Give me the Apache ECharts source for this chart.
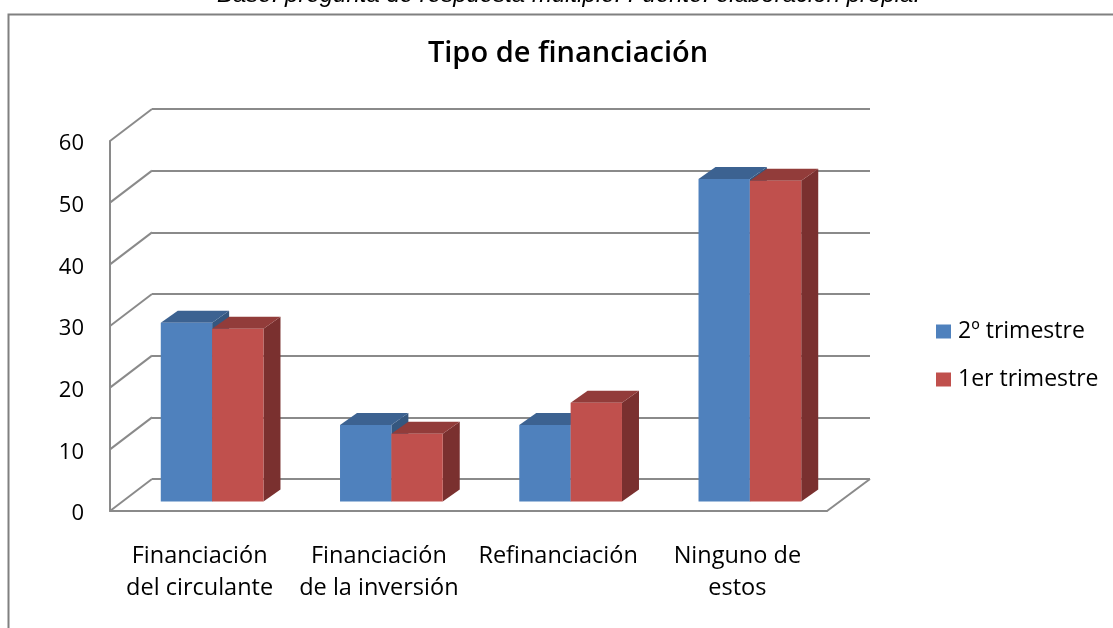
<!DOCTYPE html>
<html><head><meta charset="utf-8">
<style>html,body{margin:0;padding:0;background:#fff}#c{width:1113px;height:628px}</style>
<script src="https://cdn.jsdelivr.net/npm/echarts@6/dist/echarts.min.js"></script>
</head><body><div id="c"></div>
<script>
const categories = ['Financiación\ndel circulante', 'Financiación\nde la inversión', 'Refinanciación', 'Ninguno de\nestos'];
const trimestre2 = [29, 12.4, 12.4, 52.3];
const trimestre1 = [28, 11, 16, 52];
const seriesNames = ['2º trimestre', '1er trimestre'];
const titleText = 'Tipo de financiación';
const noteText = 'Base: pregunta de respuesta múltiple. Fuente: elaboración propia.';
const axisMax = 60;
const axisStep = 10;
const tickValues = [0, 10, 20, 30, 40, 50, 60];

const font = '"Open Sans", sans-serif';
const grey = '#8a8a8a';
const wallDx = 42, wallDy = -32;
const barDx = 12.5, barDy = -9.5, depthDx = 17, depthDy = -12;

function bar3d(seriesIndex, front, top, side) {
  return function (params, api) {
    const cat = api.value(0), val = api.value(1);
    const size = api.size([1, 0])[0];
    const w = size * 0.2865;
    const base = api.coord([cat, 0]), head = api.coord([cat, val]);
    const x0 = base[0] + barDx + (seriesIndex === 0 ? -w : 0);
    const x1 = x0 + w;
    const yb = base[1] + barDy, yt = head[1] + barDy;
    const poly = (points, fill) => ({ type: 'polygon', shape: { points }, style: { fill } });
    return { type: 'group', children: [
      poly([[x1, yb], [x1 + depthDx, yb + depthDy], [x1 + depthDx, yt + depthDy], [x1, yt]], side),
      poly([[x0, yt], [x1, yt], [x1 + depthDx, yt + depthDy], [x0 + depthDx, yt + depthDy]], top),
      poly([[x0, yb], [x1, yb], [x1, yt], [x0, yt]], front)
    ] };
  };
}

const chart = echarts.init(document.getElementById('c'), null, { renderer: 'canvas' });
chart.setOption({
  animation: false,
  backgroundColor: '#fff',
  textStyle: { fontFamily: font },
  title: {
    text: titleText, left: 563, top: 34, textAlign: 'center',
    textStyle: { fontFamily: font, fontSize: 29, fontWeight: 600, color: '#000' }
  },
  legend: {
    left: 931, top: 315, orient: 'vertical', itemGap: 25, itemWidth: 15, itemHeight: 14,
    data: seriesNames.map(name => ({ name, icon: 'rect' })),
    textStyle: { fontFamily: font, fontSize: 23, color: '#000', padding: [0, 0, 0, 2] }
  },
  graphic: [
    { type: 'polyline', silent: true, z: 0,
      shape: { points: [[8.5, 628], [8.5, 14.5], [1113, 14.5]] },
      style: { stroke: '#808080', lineWidth: 2, fill: 'none' } },
    { type: 'text', left: 217, top: -17, silent: true,
      style: { text: noteText, font: 'italic 24px "Liberation Sans", Arial, sans-serif', fill: '#000' } }
  ],
  grid: [
    { left: 110, top: 141, width: 717, height: 370 },
    { left: 152, top: 109, width: 718, height: 370 }
  ],
  xAxis: [
    { type: 'category', gridIndex: 0, data: categories,
      axisTick: { show: false },
      axisLine: { show: true, lineStyle: { color: grey, width: 2 } },
      axisLabel: { color: '#000', fontFamily: font, fontSize: 23.5, lineHeight: 32, margin: 29, interval: 0 } },
    { type: 'category', gridIndex: 1, data: categories, show: false }
  ],
  yAxis: [
    { type: 'value', gridIndex: 0, min: 0, max: axisMax, interval: axisStep,
      axisLine: { show: true, lineStyle: { color: grey, width: 2 } },
      axisTick: { show: false }, splitLine: { show: false },
      axisLabel: { color: '#000', fontFamily: font, fontSize: 22, margin: 26, lineHeight: 6,
        formatter: v => '\n' + v } },
    { type: 'value', gridIndex: 1, min: 0, max: axisMax, interval: axisStep,
      axisLine: { show: false }, axisTick: { show: false }, axisLabel: { show: false },
      splitLine: { show: true, lineStyle: { color: grey, width: 2 } } }
  ],
  series: [
    { type: 'custom', name: 'depth', xAxisIndex: 0, yAxisIndex: 0, silent: true, z: 1,
      data: tickValues.map(v => [0, v]),
      encode: { x: 0, y: 1 },
      renderItem(params, api) {
        const y = api.coord([0, api.value(1)])[1];
        const x = params.coordSys.x;
        const line = (a, b) => ({ type: 'line', shape: { x1: a[0], y1: a[1], x2: b[0], y2: b[1] },
          style: { stroke: grey, lineWidth: 2 } });
        const items = [line([x, y], [x + wallDx, y + wallDy])];
        if (api.value(1) === 0) {
          const xr = x + params.coordSys.width;
          items.push(line([xr, y], [xr + wallDx + 1, y + wallDy]));
        }
        return { type: 'group', children: items };
      } },
    { type: 'custom', name: seriesNames[0], xAxisIndex: 0, yAxisIndex: 0, z: 2,
      itemStyle: { color: '#4f81bd' },
      data: trimestre2.map((v, i) => [i, v]), encode: { x: 0, y: 1 },
      renderItem: bar3d(0, '#4f81bd', '#3c6291', '#35577f') },
    { type: 'custom', name: seriesNames[1], xAxisIndex: 0, yAxisIndex: 0, z: 3,
      itemStyle: { color: '#c0504d' },
      data: trimestre1.map((v, i) => [i, v]), encode: { x: 0, y: 1 },
      renderItem: bar3d(1, '#c0504d', '#923c3a', '#7a302f') }
  ]
});
</script></body></html>
